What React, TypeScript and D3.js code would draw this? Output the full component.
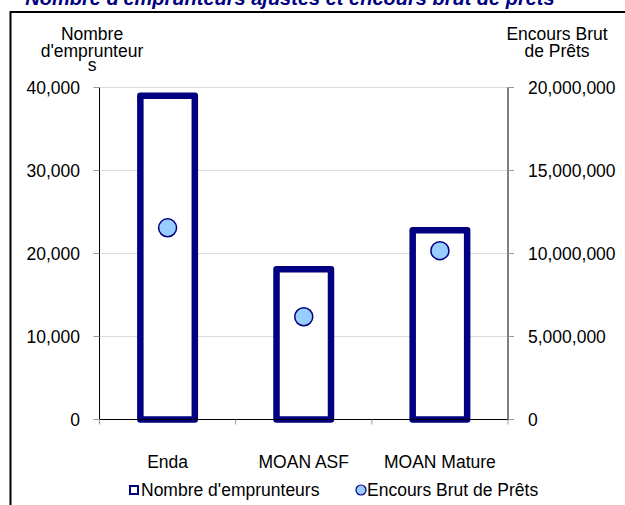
import React from 'react'
import * as d3 from 'd3'

const categories = ['Enda', 'MOAN ASF', 'MOAN Mature']
const borrowers = [39000, 18100, 22800]
const loans = [11550000, 6190000, 10170000]
const leftTicks = [0, 10000, 20000, 30000, 40000]
const rightTicks = [0, 5000000, 10000000, 15000000, 20000000]

const NAVY = '#000080'
const FONT = '"Liberation Sans", Arial, sans-serif'
const FS = 17.5

export default function App() {
  const width = 625
  const height = 505
  const plot = { left: 99.5, right: 508, top: 87.5, bottom: 419.5 }

  const x = d3.scaleBand<string>().domain(categories).range([plot.left, plot.right])
  const yL = d3.scaleLinear().domain([0, 40000]).range([plot.bottom, plot.top])
  const yR = d3.scaleLinear().domain([0, 20000000]).range([plot.bottom, plot.top])
  const fmt = d3.format(',')
  const barW = x.bandwidth() * 0.4
  const bounds = [...categories.map(c => x(c) as number), plot.right]
  const mid = (c: string) => (x(c) as number) + x.bandwidth() / 2

  return (
    <svg width={width} height={height} style={{ position: 'absolute', left: 0, top: 0, background: '#fff' }} fontFamily={FONT}>
      <text x={290} y={5} textAnchor="middle" fontSize={20} fontWeight="bold" fontStyle="italic" fill={NAVY}>
        Nombre d'emprunteurs ajustés et encours brut de prêts
      </text>
      <rect x={10.5} y={12} width={640} height={520} fill="#fff" stroke="#000" strokeWidth={2} />

      {/* gridlines */}
      {leftTicks.slice(1).map(t => (
        <line key={t} x1={plot.left} x2={plot.right} y1={yL(t)} y2={yL(t)} stroke="#dcdcdc" strokeWidth={1} />
      ))}

      {/* bars */}
      {categories.map((c, i) => (
        <rect key={c} x={mid(c) - barW / 2} y={yL(borrowers[i])} width={barW} height={yL(0) - yL(borrowers[i])}
          fill="#fff" stroke={NAVY} strokeWidth={6.5} strokeLinejoin="round" />
      ))}

      {/* axes */}
      <line x1={plot.left} x2={plot.left} y1={plot.top} y2={plot.bottom} stroke="#000" />
      <line x1={plot.right} x2={plot.right} y1={plot.top} y2={plot.bottom} stroke="#000" />
      <line x1={plot.left} x2={plot.right} y1={plot.bottom} y2={plot.bottom} stroke="#000" />

      {leftTicks.map(t => (
        <g key={'l' + t}>
          <line x1={plot.left - 6} x2={plot.left} y1={yL(t)} y2={yL(t)} stroke="#999" />
          <text x={80} y={yL(t)} dy="0.35em" textAnchor="end" fontSize={FS}>{fmt(t)}</text>
        </g>
      ))}
      {rightTicks.map(t => (
        <g key={'r' + t}>
          <line x1={plot.right} x2={plot.right + 6} y1={yR(t)} y2={yR(t)} stroke="#999" />
          <text x={528} y={yR(t)} dy="0.35em" textAnchor="start" fontSize={FS}>{fmt(t)}</text>
        </g>
      ))}
      {bounds.map((b, i) => (
        <line key={'b' + i} x1={b} x2={b} y1={plot.bottom} y2={plot.bottom + 5} stroke="#999" />
      ))}
      {categories.map(c => (
        <text key={'c' + c} x={mid(c)} y={462} dy="0.35em" textAnchor="middle" fontSize={FS}>{c}</text>
      ))}

      {/* points */}
      {categories.map((c, i) => (
        <circle key={'p' + c} cx={mid(c)} cy={yR(loans[i])} r={9}
          fill="#99ccff" stroke={NAVY} strokeWidth={1.5} />
      ))}

      {/* axis titles */}
      <text x={92} y={40} textAnchor="middle" fontSize={FS}>
        <tspan x={92} dy={0}>Nombre</tspan>
        <tspan x={92} dy={17}>d'emprunteur</tspan>
        <tspan x={92} dy={14}>s</tspan>
      </text>
      <text x={557} y={40} textAnchor="middle" fontSize={FS}>
        <tspan x={557} dy={0}>Encours Brut</tspan>
        <tspan x={557} dy={17}>de Prêts</tspan>
      </text>

      {/* legend */}
      <rect x={130} y={486} width={8} height={8} fill="#fff" stroke={NAVY} strokeWidth={2} />
      <text x={141} y={490} dy="0.35em" fontSize={FS}>Nombre d'emprunteurs</text>
      <circle cx={361} cy={490} r={5} fill="#99ccff" stroke={NAVY} strokeWidth={1.2} />
      <text x={367} y={490} dy="0.35em" fontSize={FS}>Encours Brut de Prêts</text>
    </svg>
  )
}
